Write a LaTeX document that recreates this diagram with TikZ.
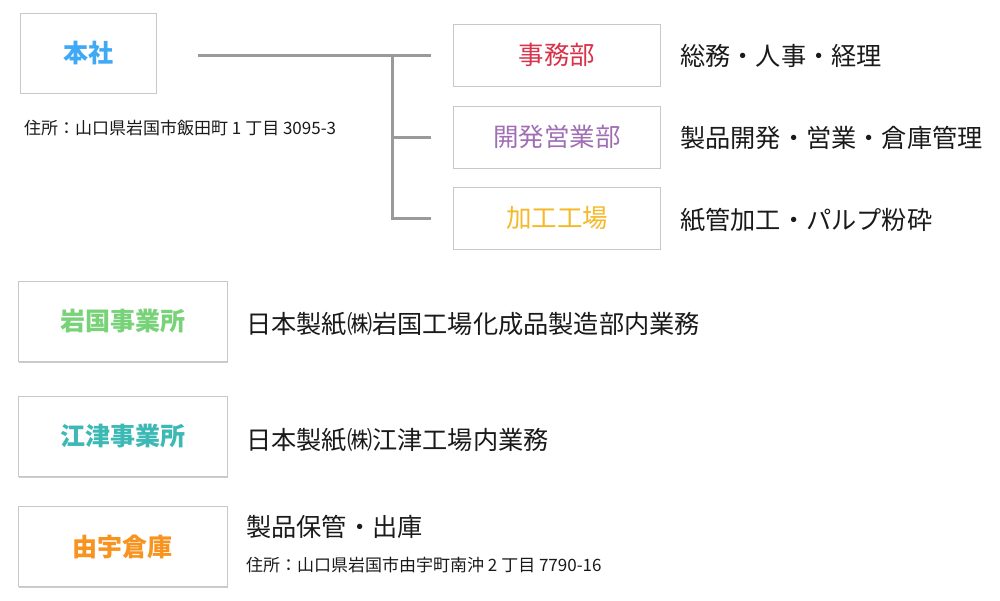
\documentclass[tikz,border=0pt]{standalone}
\usepackage{fontspec}
\setmainfont{Noto Sans CJK JP}
\usetikzlibrary{shadows}
\definecolor{boxgray}{HTML}{C8C8C8}
\definecolor{linegray}{HTML}{9A9A9A}
\definecolor{cblue}{HTML}{3FA9F5}
\definecolor{cred}{HTML}{D7334B}
\definecolor{cpurple}{HTML}{A06EB4}
\definecolor{cyellow}{HTML}{F5B928}
\definecolor{cgreen}{HTML}{78D278}
\definecolor{cteal}{HTML}{3CB9B4}
\definecolor{corange}{HTML}{F7931E}
\definecolor{ctext}{HTML}{1A1A1A}
\begin{document}
\begin{tikzpicture}[x=1pt,y=-1pt,
  box/.style={draw=boxgray, line width=0.8pt, fill=white, inner sep=0pt,
    drop shadow={shadow xshift=0.6pt, shadow yshift=-1.2pt, opacity=0.4, fill=gray}},
  mainbox/.style={box, minimum width=136pt, minimum height=80pt, font=\fontsize{25}{28}\selectfont\bfseries},
  deptbox/.style={box, minimum width=207pt, minimum height=62pt, font=\fontsize{25.5}{28}\selectfont},
  sitebox/.style={box, minimum width=209pt, minimum height=80pt, font=\fontsize{25}{28}\selectfont\bfseries},
  desc/.style={anchor=west, inner sep=0pt, text=ctext, font=\fontsize{25.2}{28}\selectfont},
  addr/.style={anchor=west, inner sep=0pt, text=ctext, font=\fontsize{17}{20}\selectfont},
  conn/.style={draw=linegray, line width=3pt}
]
\useasboundingbox (0,0) rectangle (1000,600);

% Head office
\node[mainbox, text=cblue] (honsha) at (88,53) {本社};
\node[addr] (honshaaddr) at (24,128) {住所：山口県岩国市飯田町 1 丁目 3095-3};

% Departments
\node[deptbox, text=cred] (jimu) at (557,55) {事務部};
\node[deptbox, text=cpurple] (kaihatsu) at (557,137) {開発営業部};
\node[deptbox, text=cyellow] (kako) at (557,218) {加工工場};

\node[desc] (jimud) at (680,56) {総務・人事・経理};
\node[desc] (kaihatsud) at (680,138) {製品開発・営業・倉庫管理};
\node[desc] (kakod) at (680,220) {紙管加工・パルプ粉砕};

% Connectors
\coordinate (hstart) at (198,55);
\coordinate (bus) at (392,55);
\draw[conn] (hstart) -- ([xshift=-22pt]jimu.west);
\draw[conn] (bus) |- ([xshift=-22pt]kako.west);
\draw[conn] (bus |- kaihatsu) -- ([xshift=-22pt]kaihatsu.west);

% Sites
\node[sitebox, text=cgreen] (iwakuni) at (122.5,321.5) {岩国事業所};
\node[sitebox, text=cteal] (gotsu) at (122.5,436.5) {江津事業所};
\node[sitebox, text=corange] (yuu) at (122.5,546.5) {由宇倉庫};

\node[desc] (iwakunid) at (246,324) {日本製紙㈱岩国工場化成品製造部内業務};
\node[desc] (gotsud) at (246,440) {日本製紙㈱江津工場内業務};
\node[desc] (yuud) at (246,527) {製品保管・出庫};
\node[addr] (yuuaddr) at (246,565) {住所：山口県岩国市由宇町南沖 2 丁目 7790-16};
\end{tikzpicture}
\end{document}
